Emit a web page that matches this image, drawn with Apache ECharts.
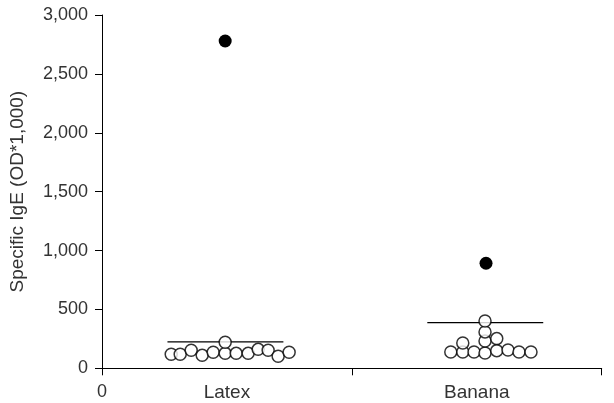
<!DOCTYPE html>
<html><head><meta charset="utf-8">
<script src="https://cdn.jsdelivr.net/npm/echarts@6/dist/echarts.min.js"></script>
<style>html,body{margin:0;padding:0;background:#fff}#c{width:614px;height:403px}</style>
</head><body><div id="c"></div>
<script>
const categories = ['Latex', 'Banana'];
const yTicks = [0, 500, 1000, 1500, 2000, 2500, 3000];
// open circles: [x position along axis (0..2), value]
const latexOpen = [[0.277,119],[0.313,119],[0.357,153],[0.401,110],[0.445,136],[0.493,127],[0.493,221],[0.537,127],[0.585,127],[0.625,161],[0.665,153],[0.705,102],[0.749,136]];
const bananaOpen = [[1.396,139],[1.444,139],[1.444,215],[1.489,139],[1.533,130],[1.533,232],[1.533,309],[1.533,402],[1.580,150],[1.580,252],[1.625,155],[1.669,139],[1.717,139]];
const filledPoints = [[0.493,2779],[1.537,892]];
const latexLine = [[0.262,224],[0.726,224]];
const bananaLine = [[1.302,388],[1.766,388]];

const FONT = 'Liberation Sans';
const TXT = '#333';
const chart = echarts.init(document.getElementById('c'), null, {renderer:'canvas'});
chart.setOption({
  animation:false,
  backgroundColor:'#fff',
  grid:{left:101.7, right:12.3, top:15, bottom:34.7, containLabel:false},
  xAxis:[{
    type:'value', min:0, max:2, interval:1,
    axisLine:{show:true, lineStyle:{color:'#000', width:1}},
    axisTick:{show:true, length:7, lineStyle:{color:'#000'}},
    axisLabel:{show:true, margin:15, fontFamily:FONT, fontSize:18, color:TXT, formatter:v=> v===0?'0':''},
    splitLine:{show:false}
  },{
    type:'category', data:categories, position:'bottom',
    axisLine:{show:false}, axisTick:{show:false},
    axisLabel:{margin:15, fontFamily:FONT, fontSize:19, color:TXT}
  }],
  yAxis:{
    type:'value', min:yTicks[0], max:yTicks[yTicks.length-1], interval:500,
    name:'Specific IgE (OD*1,000)', nameLocation:'middle', nameGap:75, nameRotate:90,
    nameTextStyle:{fontFamily:FONT, fontSize:19, color:TXT},
    axisLine:{show:true, lineStyle:{color:'#000', width:1}},
    axisTick:{show:true, length:7, lineStyle:{color:'#000'}},
    axisLabel:{margin:14, fontFamily:FONT, fontSize:18, color:TXT},
    splitLine:{show:false}
  },
  series:[
    {type:'line', xAxisIndex:0, data:latexLine, symbol:'none', lineStyle:{color:'#000', width:1.3}, z:1},
    {type:'line', xAxisIndex:0, data:bananaLine, symbol:'none', lineStyle:{color:'#000', width:1.3}, z:1},
    {type:'scatter', xAxisIndex:0, data:latexOpen, symbol:'circle', symbolSize:12, itemStyle:{color:'#fff', borderColor:'#000', borderWidth:1.5}, z:3},
    {type:'scatter', xAxisIndex:0, data:bananaOpen, symbol:'circle', symbolSize:12, itemStyle:{color:'#fff', borderColor:'#000', borderWidth:1.5}, z:3},
    {type:'scatter', xAxisIndex:0, data:filledPoints, symbol:'circle', symbolSize:13, itemStyle:{color:'#000', opacity:1}, z:4}
  ]
});
</script></body></html>
